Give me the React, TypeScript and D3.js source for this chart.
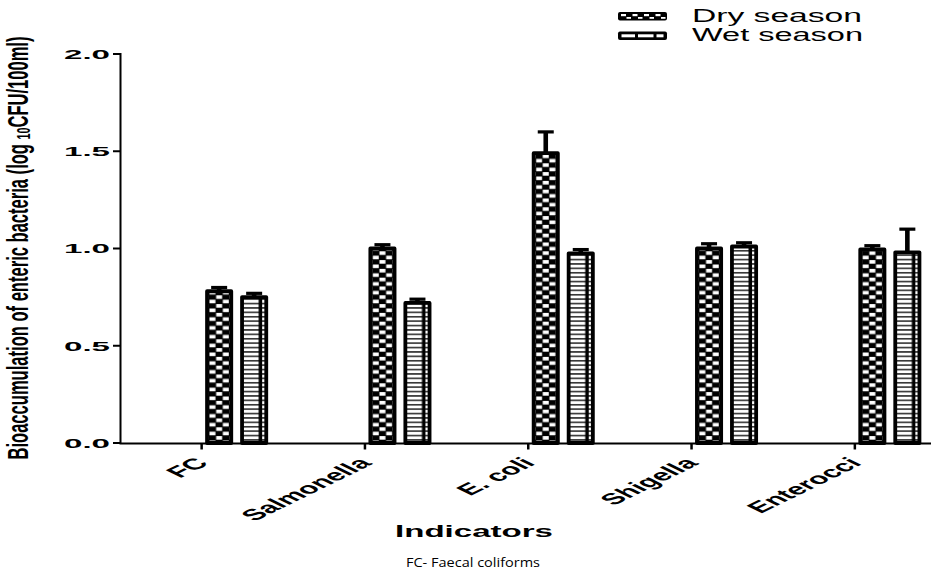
import React from "react";
import * as d3 from "d3";

const categories = ["FC", "Salmonella", "E. coli", "Shigella", "Enterocci"];
const drySeason = [0.79, 1.01, 1.5, 1.01, 1.005];
const drySD = [0.01, 0.01, 0.1, 0.015, 0.01];
const wetSeason = [0.76, 0.73, 0.985, 1.02, 0.99];
const wetSD = [0.01, 0.01, 0.01, 0.01, 0.11];
const yTicks = [0, 0.5, 1, 1.5, 2];
const seriesNames = ["Dry season", "Wet season"];

const W = 931;
const H = 576;
const FONT = "'Liberation Sans', Arial, sans-serif";

export default function App() {
  const y = d3.scaleLinear().domain([0, 2]).range([443, 54]);
  const x = d3
    .scaleBand<string>()
    .domain(categories)
    .range([120, 120 + 163.3 * categories.length]);
  const tickX = (c: string) => (x(c) as number) + x.bandwidth() / 2;
  const fmt = d3.format(".1f");
  const barW = 28;
  const sw = 3.8;
  const series = [
    { name: seriesNames[0], vals: drySeason, sd: drySD, off: 3.5, kind: "dry" },
    { name: seriesNames[1], vals: wetSeason, sd: wetSD, off: 38.5, kind: "wet" },
  ];

  return (
    <svg
      width={W}
      height={H}
      style={{ position: "absolute", left: 0, top: 0, background: "#fff" }}
      fontFamily={FONT}
    >
      <defs>
        {categories.map((c, i) =>
          series.map((s) => {
            const left = tickX(c) + s.off;
            const id = `${s.kind}-${i}`;
            if (s.kind === "dry") {
              return (
                <pattern
                  key={id}
                  id={id}
                  patternUnits="userSpaceOnUse"
                  x={left + sw}
                  y={0}
                  width={13.4}
                  height={8.8}
                >
                  <rect width={13.4} height={8.8} fill="#000" />
                  <rect x={0.5} y={0.5} width={6} height={3.6} fill="#fff" />
                  <rect x={7.2} y={4.9} width={6} height={3.6} fill="#fff" />
                </pattern>
              );
            }
            return (
              <pattern
                key={id}
                id={id}
                patternUnits="userSpaceOnUse"
                x={left}
                y={0}
                width={barW}
                height={4.4}
              >
                <rect width={barW} height={4.4} fill="#000" />
                <rect x={0} y={0.6} width={barW} height={3.1} fill="#fff" />
                <rect x={18.5} y={0} width={3.5} height={4.4} fill="#000" />
              </pattern>
            );
          })
        )}
      </defs>

      {/* Y axis */}
      <line x1={120.5} x2={120.5} y1={y(2) - 1} y2={444} stroke="#000" strokeWidth={2} />
      {yTicks.map((t) => (
        <g key={t}>
          <line x1={113} x2={121} y1={y(t)} y2={y(t)} stroke="#000" strokeWidth={2} />
          <text
            x={64}
            y={y(t) + 4.8}
            fontSize={13}
            fontWeight="bold"
            textLength={46}
            lengthAdjust="spacingAndGlyphs"
          >
            {fmt(t)}
          </text>
        </g>
      ))}

      {/* X axis */}
      <line x1={119.5} x2={931} y1={443.5} y2={443.5} stroke="#000" strokeWidth={2} />
      {categories.map((c) => (
        <g key={c}>
          <line x1={tickX(c)} x2={tickX(c)} y1={443} y2={449.5} stroke="#000" strokeWidth={2.5} />
          <text
            transform={`translate(${tickX(c) + 8},464) scale(2.05,1) rotate(-45)`}
            textAnchor="end"
            fontSize={15.5}
            fontWeight="bold"
          >
            {c}
          </text>
        </g>
      ))}

      {/* Bars */}
      {categories.map((c, i) =>
        series.map((s) => {
          const left = tickX(c) + s.off;
          const v = s.vals[i];
          const top = y(v);
          const cx = left + barW / 2;
          const eTop = y(v + s.sd[i]);
          return (
            <g key={`${s.kind}-${i}`}>
              <rect
                x={left + sw / 2}
                y={top + sw / 2}
                width={barW - sw}
                height={443 - top - sw / 2}
                fill={`url(#${s.kind}-${i})`}
                stroke="#000"
                strokeWidth={sw}
                strokeLinejoin="round"
              />
              <rect x={cx - 2.3} y={eTop} width={4.6} height={top - eTop + 1} fill="#000" />
              <rect x={cx - 8} y={eTop - 1.5} width={16} height={3.2} fill="#000" />
            </g>
          );
        })
      )}

      {/* Legend */}
      <g>
        <rect x={618} y={12} width={49} height={8.5} rx={2} fill="#000" />
        {[0, 1, 2, 3].map((k) => (
          <rect key={`a${k}`} x={621 + k * 11.5} y={14} width={5} height={2.2} fill="#fff" />
        ))}
        {[0, 1, 2, 3].map((k) => (
          <rect key={`b${k}`} x={626.5 + k * 11.5} y={17} width={4.5} height={1.8} fill="#fff" />
        ))}
        <text
          x={692}
          y={22}
          fontSize={17.5}
          textLength={170}
          lengthAdjust="spacingAndGlyphs"
        >
          {seriesNames[0]}
        </text>

        <rect x={618} y={31.5} width={49} height={8.5} rx={2} fill="#000" />
        <rect x={621.5} y={34.3} width={13.5} height={3} fill="#fff" />
        <rect x={638} y={34.3} width={15.5} height={3} fill="#fff" />
        <rect x={656.5} y={34.3} width={7} height={3} fill="#fff" />
        <text
          x={692}
          y={41}
          fontSize={17.5}
          textLength={171}
          lengthAdjust="spacingAndGlyphs"
        >
          {seriesNames[1]}
        </text>
      </g>

      {/* Axis titles */}
      <text
        transform="translate(28,248) scale(1.85,1) rotate(-90)"
        textAnchor="middle"
        fontSize={15.5}
        fontWeight="bold"
        textLength={423}
        lengthAdjust="spacingAndGlyphs"
      >
        Bioaccumulation of enteric bacteria (log{" "}
        <tspan fontSize={10} dy={1}>
          10
        </tspan>
        <tspan dy={-1}>CFU/100ml)</tspan>
      </text>
      <text
        x={395}
        y={537}
        fontSize={17}
        fontWeight="bold"
        textLength={158}
        lengthAdjust="spacingAndGlyphs"
      >
        Indicators
      </text>
      <text
        x={406}
        y={567}
        fontSize={12}
        fontFamily="'Open Sans', sans-serif"
        textLength={134}
        lengthAdjust="spacingAndGlyphs"
      >
        FC- Faecal coliforms
      </text>
    </svg>
  );
}
